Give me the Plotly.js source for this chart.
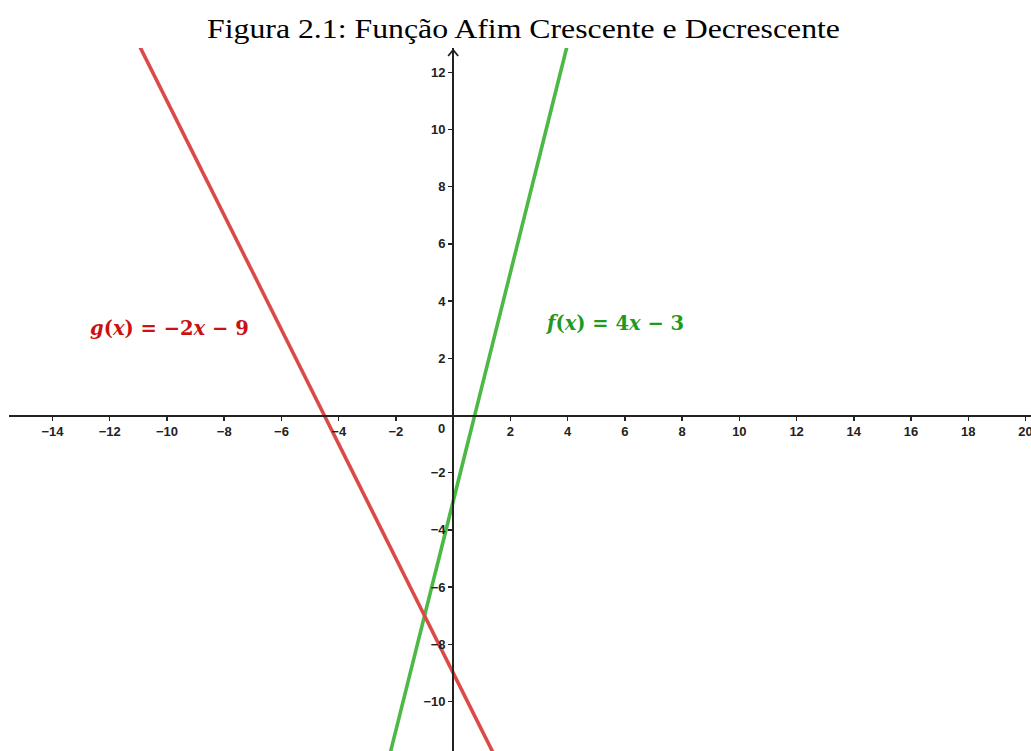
<!DOCTYPE html>
<html>
<head>
<meta charset="utf-8">
<script src="https://cdn.plot.ly/plotly-3.0.1.min.js"></script>
<style>
  html, body { margin: 0; padding: 0; background: #ffffff; }
  #chart { width: 1031px; height: 751px; }
</style>
</head>
<body>
<div id="chart"></div>
<script>
// Affine functions y = a*x + b
const functionNames = ['f', 'g'];
const slopes = [4, -2];
const intercepts = [-3, -9];
const lineColors = ['#4cb947', '#dc4a48'];
const labelColors = ['#1f9a1f', '#cc1111'];
const labelTexts = [
  '<b><i>f</i>(<i>x</i>) = 4<i>x</i> − 3</b>',
  '<b><i>g</i>(<i>x</i>) = −2<i>x</i> − 9</b>'
];

// Tick labels on both axes
const xTicks = [-14, -12, -10, -8, -6, -4, -2, 2, 4, 6, 8, 10, 12, 14, 16, 18, 20];
const yTicks = [-10, -8, -6, -4, -2, 2, 4, 6, 8, 10, 12];

const xRange = [-15.52, 20.19];
const yRange = [-11.73, 12.85];

// each line is sampled at the ends of the visible x range
const xEnds = [xRange[0] - 1, xRange[1] + 1];

const traces = functionNames.map((name, i) => ({
  type: 'scatter',
  mode: 'lines',
  name: name,
  x: xEnds,
  y: xEnds.map(x => slopes[i] * x + intercepts[i]),
  line: { color: lineColors[i], width: 3.6 },
  hoverinfo: 'skip'
}));

const tickFont = { family: 'Liberation Sans, Arial, sans-serif', size: 13, color: '#222', weight: 'bold' };
const labelFont = { family: 'DejaVu Serif, Liberation Serif, serif', size: 19.5 };

const xPos = (0 - yRange[0]) / (yRange[1] - yRange[0]);
const yPos = (0 - xRange[0]) / (xRange[1] - xRange[0]);

const layout = {
  width: 1031,
  height: 751,
  margin: { l: 9, r: 0, t: 48, b: 0 },
  paper_bgcolor: '#ffffff',
  plot_bgcolor: '#ffffff',
  showlegend: false,
  title: {
    text: 'Figura 2.1: Função Afim Crescente e Decrescente',
    xref: 'container', yref: 'container',
    x: 523.5 / 1031, xanchor: 'center',
    y: 1 - 28 / 751, yanchor: 'middle',
    font: { family: 'Liberation Serif, Times New Roman, serif', size: 28, color: '#000' }
  },
  xaxis: {
    range: xRange,
    anchor: 'free',
    position: xPos,
    showgrid: false,
    zeroline: false,
    showline: true,
    linecolor: '#222',
    linewidth: 2,
    tickmode: 'array',
    tickvals: xTicks,
    ticks: 'outside',
    ticklen: 4,
    tickwidth: 1.5,
    tickcolor: '#222',
    tickfont: tickFont,
    ticklabeloverflow: 'allow'
  },
  yaxis: {
    range: yRange,
    anchor: 'free',
    position: yPos,
    showgrid: false,
    zeroline: false,
    showline: true,
    linecolor: '#222',
    linewidth: 2,
    tickmode: 'array',
    tickvals: yTicks,
    ticks: 'outside',
    ticklen: 4,
    tickwidth: 1.5,
    tickcolor: '#222',
    tickfont: tickFont,
    ticklabeloverflow: 'allow'
  },
  shapes: [
    // open arrow head at the top of the y axis
    {
      type: 'path',
      xref: 'x', yref: 'paper',
      xsizemode: 'pixel', ysizemode: 'pixel',
      xanchor: 0, yanchor: 1,
      path: 'M -5 -8 L 0 -2 L 5 -8',
      line: { color: '#222', width: 1.8 }
    }
  ],
  annotations: [
    {
      x: 0, y: 0, xref: 'x', yref: 'y',
      text: '0', showarrow: false,
      xshift: -11.5, yshift: -12.5,
      font: tickFont
    },
    {
      x: 5.65, y: 3.2, xref: 'x', yref: 'y',
      text: labelTexts[0], showarrow: false,
      font: Object.assign({ color: labelColors[0] }, labelFont)
    },
    {
      x: -9.9, y: 3.06, xref: 'x', yref: 'y',
      text: labelTexts[1], showarrow: false,
      font: Object.assign({ color: labelColors[1] }, labelFont)
    }
  ]
};

Plotly.newPlot('chart', traces, layout, { displayModeBar: false, staticPlot: true }).then(() => {
  // widen the caption line to its typeset width
  const title = document.querySelector('#chart .gtitle');
  if (title) {
    title.setAttribute('textLength', '633');
    title.setAttribute('lengthAdjust', 'spacingAndGlyphs');
  }
});
</script>
</body>
</html>
